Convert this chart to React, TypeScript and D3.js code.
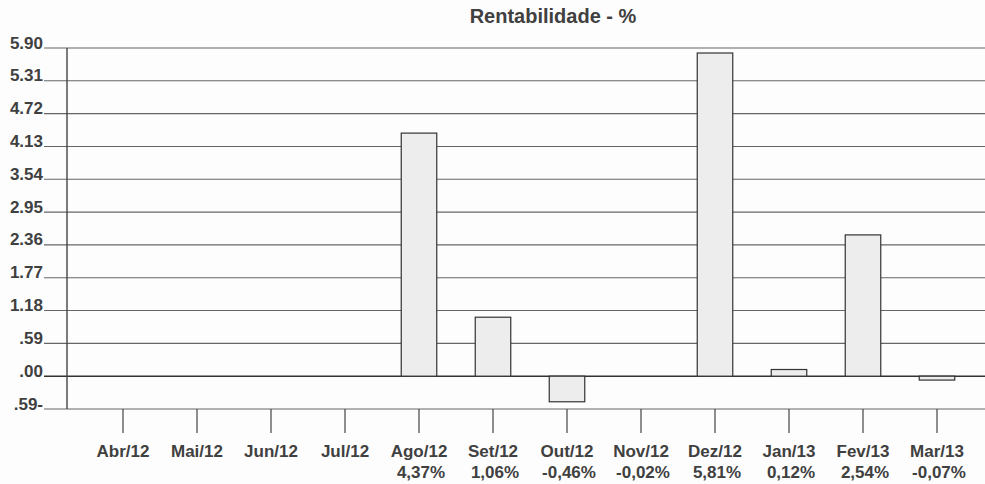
import React from "react";
import * as d3 from "d3";

const categories = ["Abr/12","Mai/12","Jun/12","Jul/12","Ago/12","Set/12","Out/12","Nov/12","Dez/12","Jan/13","Fev/13","Mar/13"];
const values: (number | null)[] = [null, null, null, null, 4.37, 1.06, -0.46, -0.02, 5.81, 0.12, 2.54, -0.07];
const valueLabels = ["", "", "", "", "4,37%", "1,06%", "-0,46%", "-0,02%", "5,81%", "0,12%", "2,54%", "-0,07%"];
const yTicks = [-0.59, 0, 0.59, 1.18, 1.77, 2.36, 2.95, 3.54, 4.13, 4.72, 5.31, 5.90];
const yTickLabels = [".59-", ".00", ".59", "1.18", "1.77", "2.36", "2.95", "3.54", "4.13", "4.72", "5.31", "5.90"];

export default function App() {
  const W = 985, H = 484;
  const axisX = 67, gridLeft = 44, gridRight = 985;
  const y = d3.scaleLinear().domain([-0.59, 5.9]).range([409, 48]);
  const x = d3.scaleBand().domain(categories).range([86, 974]).paddingInner(0.52).paddingOuter(0.26);
  const font = "Arial, 'Liberation Sans', sans-serif";
  const textColor = "#404040";
  return (
    <svg width={W} height={H} style={{ position: "absolute", left: 0, top: 0, background: "#fdfdfd" }}>
      <text x={553} y={23} textAnchor="middle" fontFamily={font} fontWeight="bold" fontSize={20} fill={textColor}>Rentabilidade - %</text>
      {yTicks.map((t, i) => (
        <g key={i}>
          <line x1={gridLeft} x2={gridRight} y1={y(t)} y2={y(t)} stroke={t === 0 ? "#333" : "#666"} strokeWidth={t === 0 ? 1.6 : 1.1} />
          <text x={43} y={y(t) + 0.5} textAnchor="end" fontFamily={font} fontWeight="bold" fontSize={17} fill={textColor}>{yTickLabels[i]}</text>
        </g>
      ))}
      <line x1={axisX} x2={axisX} y1={y(5.9)} y2={y(-0.59)} stroke="#444" strokeWidth={1.4} />
      {categories.map((c, i) => {
        const v = values[i];
        const bx = x(c)!;
        const bw = x.bandwidth();
        const cx = bx + bw / 2;
        return (
          <g key={c}>
            {v !== null && Math.abs(v) >= 0.05 && (
              <rect x={bx} y={y(Math.max(v, 0))} width={bw} height={Math.abs(y(v) - y(0))} fill="#ededed" stroke="#333" strokeWidth={1.2} />
            )}
            <line x1={cx} x2={cx} y1={409} y2={433} stroke="#444" strokeWidth={1.2} />
            <text x={cx} y={457} textAnchor="middle" fontFamily={font} fontWeight="bold" fontSize={17} fill={textColor}>{c}</text>
            <text x={cx + 2} y={478} textAnchor="middle" fontFamily={font} fontWeight="bold" fontSize={17} fill={textColor}>{valueLabels[i]}</text>
          </g>
        );
      })}
    </svg>
  );
}
